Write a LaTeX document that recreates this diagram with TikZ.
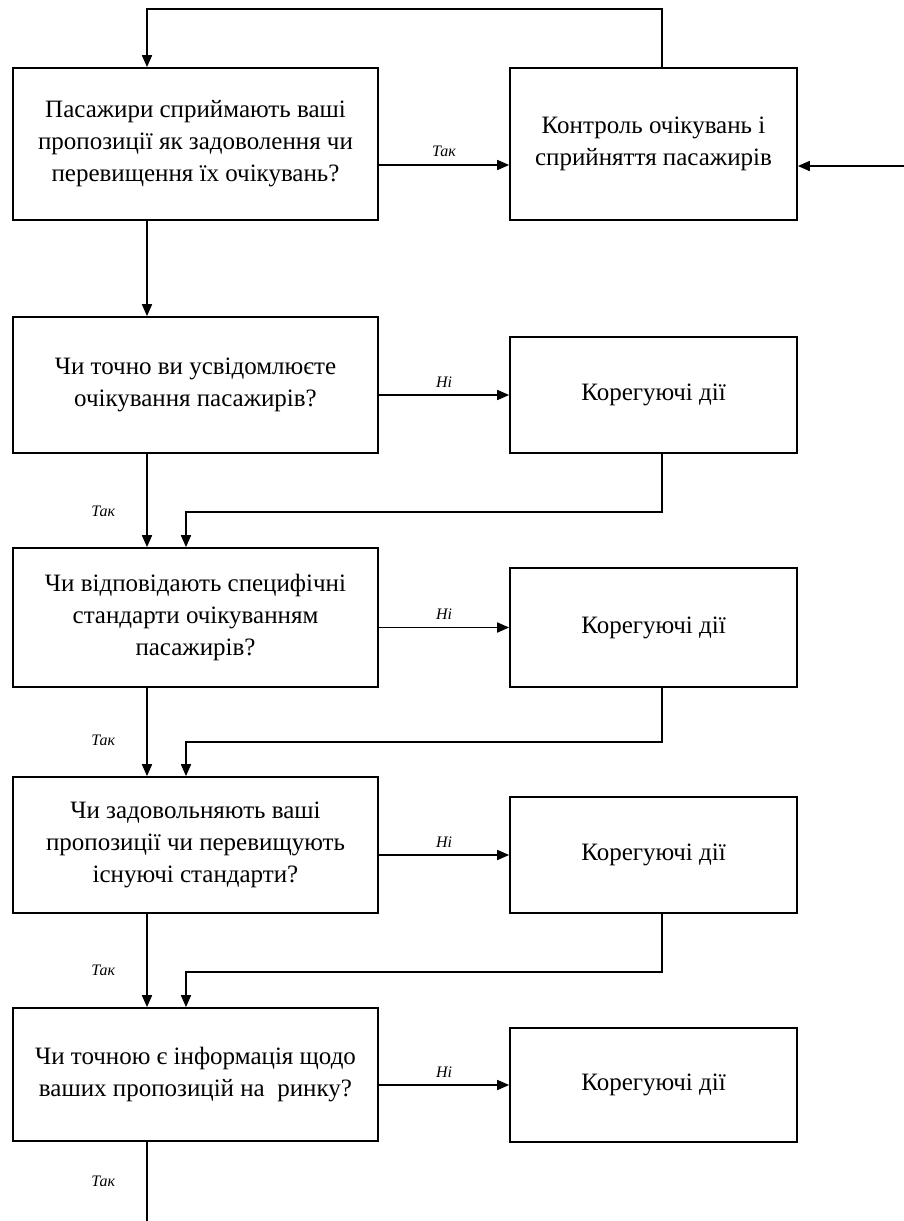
\documentclass[tikz,border=0pt]{standalone}
\usepackage{fontspec}
\setmainfont{Liberation Serif}
\usetikzlibrary{arrows.meta, positioning}

\begin{document}
\begin{tikzpicture}[
x=1pt, y=-1pt,
>={Triangle[length=12pt,width=10pt]},
every path/.style={line width=1.7pt},
qnode/.style={rectangle, draw=black, fill=white, align=center, minimum width=365pt, font=\fontsize{25}{32}\selectfont},
actnode/.style={rectangle, draw=black, fill=white, align=center, minimum width=287pt, font=\fontsize{25}{32}\selectfont},
lbl/.style={font=\fontsize{16}{18}\selectfont\itshape, inner sep=1pt},
]
\useasboundingbox (0,0) rectangle (904,1221);
%Nodes
\node[qnode, minimum height=152pt]   (q1)   at (195.5,144)  {Пасажири сприймають ваші\\пропозиції як задоволення чи\\перевищення їх очікувань?};
\node[actnode, minimum height=152pt] (ctrl) at (653.5,144)  {Контроль очікувань і\\сприйняття пасажирів};
\node[qnode, minimum height=136pt]   (q2)   at (195.5,385)  {Чи точно ви усвідомлюєте\\очікування пасажирів?};
\node[actnode, minimum height=116pt] (act2) at (653.5,395)  {Корегуючі дії};
\node[qnode, minimum height=139pt]   (q3)   at (195.5,617.5) {Чи відповідають специфічні\\стандарти очікуванням\\пасажирів?};
\node[actnode, minimum height=119pt] (act3) at (653.5,627.5) {Корегуючі дії};
\node[qnode, minimum height=136pt]   (q4)   at (195.5,845)  {Чи задовольняють ваші\\пропозиції чи перевищують\\існуючі стандарти?};
\node[actnode, minimum height=116pt] (act4) at (653.5,855)  {Корегуючі дії};
\node[qnode, minimum height=133pt]   (q5)   at (195.5,1074.5) {Чи точною є інформація щодо\\ваших пропозицій на~ ринку?};
\node[actnode, minimum height=114pt] (act5) at (653.5,1085) {Корегуючі дії};

\coordinate (colx)  at (147,0);
\coordinate (backx) at (186,0);
\coordinate (retx)  at (662,0);
\coordinate (feed)  at (904,166);
\coordinate (out)   at (147,1221);

%Lines
\draw[->] (ctrl.north -| retx) -- ++(0,-58) -| (q1.north -| colx);
\draw[->] ([yshift=-21pt]q1.east) -- node[lbl, above=6pt] {Так} ([yshift=-21pt]ctrl.west);
\draw[->] (feed) -- (feed -| ctrl.east);
\draw[->] (q1.south -| colx) -- (q2.north -| colx);

\draw[->] (q2.east |- act2.west) -- node[lbl, above=6pt] {Ні} (act2.west);
\draw[->] (q2.south -| colx) -- node[lbl, left=30pt, pos=0.62] {Так} (q3.north -| colx);
\draw[->] (act2.south -| retx) -- ++(0,58) -| (q3.north -| backx);

\draw[->] (q3.east |- act3.west) -- node[lbl, above=6pt] {Ні} (act3.west);
\draw[->] (q3.south -| colx) -- node[lbl, left=30pt, pos=0.6] {Так} (q4.north -| colx);
\draw[->] (act3.south -| retx) -- ++(0,54) -| (q4.north -| backx);

\draw[->] (q4.east |- act4.west) -- node[lbl, above=6pt] {Ні} (act4.west);
\draw[->] (q4.south -| colx) -- node[lbl, left=30pt, pos=0.6] {Так} (q5.north -| colx);
\draw[->] (act4.south -| retx) -- ++(0,58) -| (q5.north -| backx);

\draw[->] (q5.east |- act5.west) -- node[lbl, above=6pt] {Ні} (act5.west);
\draw (q5.south -| colx) -- node[lbl, left=30pt] {Так} (out);

\end{tikzpicture}
\end{document}
